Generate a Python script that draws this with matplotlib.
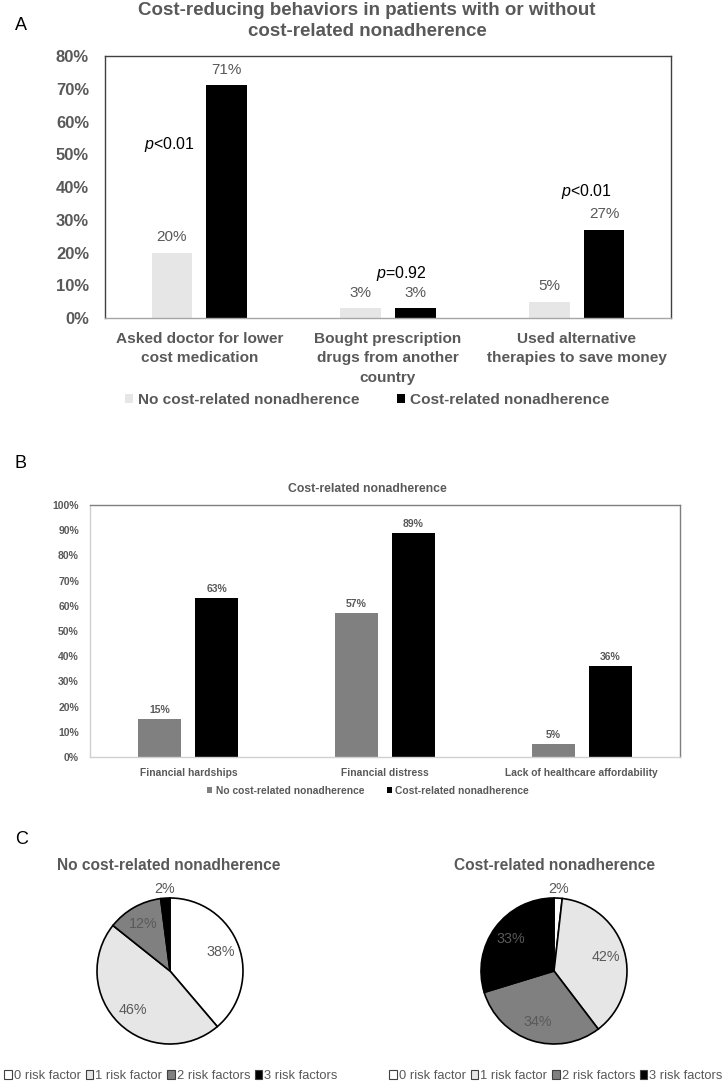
import matplotlib
matplotlib.use("Agg")
import matplotlib.pyplot as plt
import numpy as np
from matplotlib.ticker import PercentFormatter

plt.rcParams['font.family'] = ['Liberation Sans', 'DejaVu Sans']
plt.rcParams['mathtext.fontset'] = 'custom'
plt.rcParams['mathtext.it'] = 'Liberation Sans:italic'
plt.rcParams['mathtext.rm'] = 'Liberation Sans'

# ---------------- data ----------------
a_title = "Cost-reducing behaviors in patients with or without\ncost-related nonadherence"
a_categories = ["Asked doctor for lower\ncost medication",
                "Bought prescription\ndrugs from another\ncountry",
                "Used alternative\ntherapies to save money"]
a_no_crn = [20, 3, 5]
a_crn = [71, 3, 27]
a_pvalues = ["<0.01", "=0.92", "<0.01"]
a_yticks = [0, 10, 20, 30, 40, 50, 60, 70, 80]

b_title = "Cost-related nonadherence"
b_categories = ["Financial hardships", "Financial distress", "Lack of healthcare affordability"]
b_no_crn = [15, 57, 5]
b_crn = [63, 89, 36]
b_yticks = [0, 10, 20, 30, 40, 50, 60, 70, 80, 90, 100]

series_names = ["No cost-related nonadherence", "Cost-related nonadherence"]

c_labels = ["0 risk factor", "1 risk factor", "2 risk factors", "3 risk factors"]
c_no_crn = [38, 46, 12, 2]
c_crn = [2, 42, 34, 33]
c_titles = ["No cost-related nonadherence", "Cost-related nonadherence"]

# ---------------- style ----------------
W, H = 727, 1083
GRAY_TXT = "#595959"
LIGHT = "#E7E6E6"
MID = "#808080"
BLACK = "#000000"

fig = plt.figure(figsize=(W / 100, H / 100), dpi=100)


def px_axes(x0, y0, x1, y1):
    return fig.add_axes([x0 / W, 1 - y1 / H, (x1 - x0) / W, (y1 - y0) / H])


# ---------------- Panel A ----------------
fig.text(15 / W, 1 - 25 / H, "A", fontsize=13, va="center", ha="left", color="black")
fig.text(367 / W, 1 - 21 / H, a_title, fontsize=13.5, fontweight="bold", color=GRAY_TXT,
         ha="center", va="center", linespacing=1.3)

axA = px_axes(105, 56, 671, 318)
x = np.arange(len(a_categories))
bw = 0.215
off = 0.145
b1 = axA.bar(x - off, a_no_crn, bw, color=LIGHT, label=series_names[0])
b2 = axA.bar(x + off, a_crn, bw, color=BLACK, label=series_names[1])
axA.set_xlim(-0.5, 2.5)
axA.set_ylim(0, 80)
axA.set_yticks(a_yticks)
axA.yaxis.set_major_formatter(PercentFormatter(decimals=0))
axA.tick_params(axis="y", length=0, labelsize=12, labelcolor=GRAY_TXT, pad=11.5)
for lab in axA.get_yticklabels():
    lab.set_fontweight("bold")
axA.set_xticks(x)
axA.set_xticklabels(a_categories, fontsize=11.1, fontweight="bold", color=GRAY_TXT, linespacing=1.5)
axA.tick_params(axis="x", length=0, pad=10)
for s in axA.spines.values():
    s.set_color("#404040")
    s.set_linewidth(1.0)
axA.spines["bottom"].set_color("#A6A6A6")
for rects, vals in ((b1, a_no_crn), (b2, a_crn)):
    for rect, v in zip(rects, vals):
        axA.annotate(f"{v}%", (rect.get_x() + rect.get_width() / 2, v), xytext=(0, 6),
                     textcoords="offset points", ha="center", va="bottom", fontsize=11,
                     color=GRAY_TXT)
# p-value annotations
p_pos = [(-0.16, 53), (1.07, 13.5), (2.05, 38.5)]
for (px, py), pv in zip(p_pos, a_pvalues):
    axA.text(px, py, r"$\mathit{p}$" + pv, fontsize=11.5, color="black", ha="center", va="center")

legA = fig.legend(handles=[b1, b2], labels=series_names, loc="center", bbox_to_anchor=(367 / W, 1 - 400 / H),
                  ncol=2, frameon=False, fontsize=11.1, handlelength=0.55, handleheight=0.55,
                  handletextpad=0.3, columnspacing=2.4)
for t in legA.get_texts():
    t.set_color(GRAY_TXT)
    t.set_fontweight("bold")

# ---------------- Panel B ----------------
fig.text(15 / W, 1 - 463 / H, "B", fontsize=13, va="center", ha="left", color="black")
fig.text(367 / W, 1 - 489 / H, b_title, fontsize=8.8, fontweight="bold", color=GRAY_TXT,
         ha="center", va="center")
axB = px_axes(90, 505, 680, 757)
c1 = axB.bar(x - off, b_no_crn, 0.22, color=MID, label=series_names[0])
c2 = axB.bar(x + off, b_crn, 0.22, color=BLACK, label=series_names[1])
axB.set_xlim(-0.5, 2.5)
axB.set_ylim(0, 100)
axB.set_yticks(b_yticks)
axB.yaxis.set_major_formatter(PercentFormatter(decimals=0))
axB.tick_params(axis="y", length=0, labelsize=7.5, labelcolor=GRAY_TXT, pad=8)
for lab in axB.get_yticklabels():
    lab.set_fontweight("bold")
axB.set_xticks(x)
axB.set_xticklabels(b_categories, fontsize=7.4, fontweight="bold", color=GRAY_TXT)
axB.tick_params(axis="x", length=0, pad=8)
for s in axB.spines.values():
    s.set_color("#7F7F7F")
    s.set_linewidth(1.0)
axB.spines["bottom"].set_color("#D0D0D0")
axB.spines["left"].set_color("#D0D0D0")
for rects, vals in ((c1, b_no_crn), (c2, b_crn)):
    for rect, v in zip(rects, vals):
        axB.annotate(f"{v}%", (rect.get_x() + rect.get_width() / 2, v), xytext=(0, 3),
                     textcoords="offset points", ha="center", va="bottom", fontsize=7.5,
                     fontweight="bold", color=GRAY_TXT)
legB = fig.legend(handles=[c1, c2], labels=series_names, loc="center", bbox_to_anchor=(368 / W, 1 - 791 / H),
                  ncol=2, frameon=False, fontsize=7.4, handlelength=0.5, handleheight=0.5,
                  handletextpad=0.3, columnspacing=2.2)
for t in legB.get_texts():
    t.set_color(GRAY_TXT)
    t.set_fontweight("bold")

# ---------------- Panel C ----------------
fig.text(15 / W, 1 - 840 / H, "C", fontsize=13, va="center", ha="left", color="black")
pie_colors = ["white", LIGHT, MID, BLACK]
pie_specs = [(c_no_crn, 170, 971, 73, 169, 1076, 171),
             (c_crn, 554, 971, 73, 554, 1076, 556)]
for i, (vals, cx, cy, r, tx, ly, lx) in enumerate(pie_specs):
    axP = px_axes(cx - r, cy - r, cx + r, cy + r)
    wedges, _ = axP.pie(vals, colors=pie_colors, startangle=90, counterclock=False,
                        wedgeprops=dict(edgecolor="black", linewidth=1.2))
    axP.set_xlim(-1, 1)
    axP.set_ylim(-1, 1)
    axP.set_aspect("equal")
    axP.axis("off")
    for w, v in zip(wedges, vals):
        ang = np.deg2rad((w.theta1 + w.theta2) / 2)
        rr = 1.12 if v < 5 else 0.74
        axP.text(rr * np.cos(ang), rr * np.sin(ang), f"{v}%", ha="center", va="center",
                 fontsize=10.3, color=GRAY_TXT)
    fig.text(tx / W, 1 - 866 / H, c_titles[i], fontsize=11.2, fontweight="bold", color=GRAY_TXT,
             ha="center", va="center")
    lg = fig.legend(handles=wedges, labels=c_labels, loc="center", bbox_to_anchor=(lx / W, 1 - ly / H),
                    ncol=4, frameon=False, fontsize=9.3, handlelength=0.6, handleheight=0.6,
                    handletextpad=0.15, columnspacing=0.35, borderaxespad=0)
    for t in lg.get_texts():
        t.set_color(GRAY_TXT)
    for h in lg.legend_handles:
        h.set_edgecolor("#404040")
        h.set_linewidth(0.8)

fig.savefig("out.png", dpi=100, facecolor="white")
